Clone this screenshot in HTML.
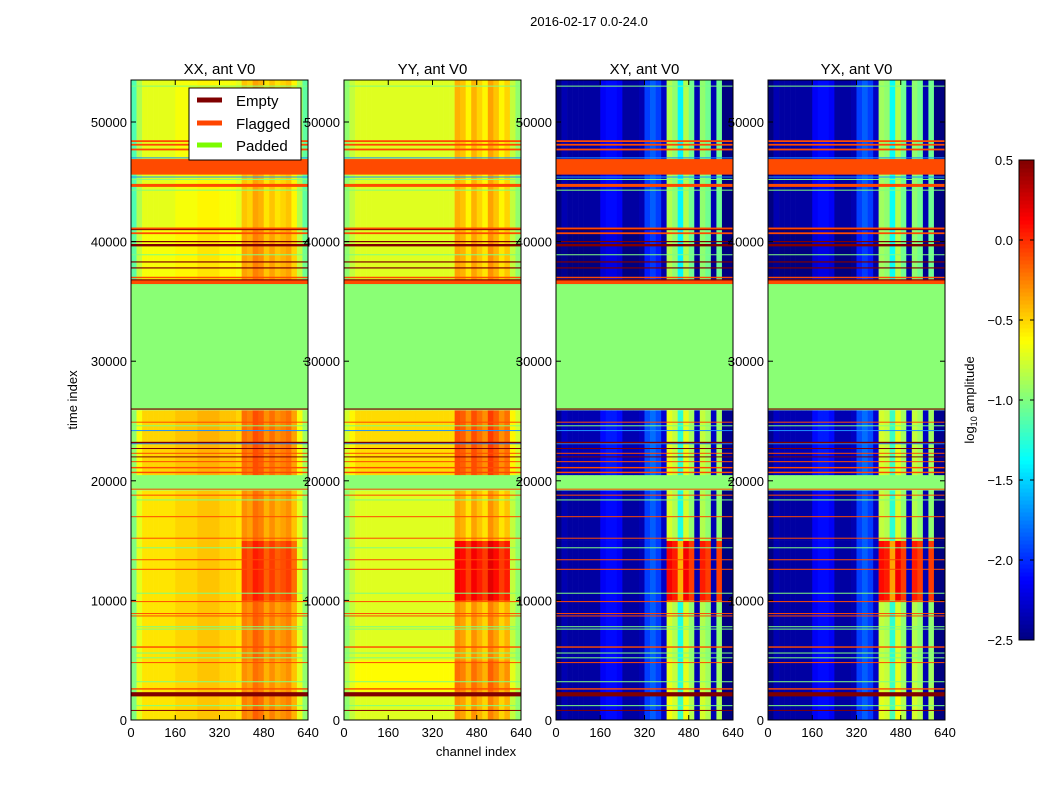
<!DOCTYPE html>
<html><head><meta charset="utf-8">
<style>
body{margin:0;background:#fff;}
svg text{font-family:"Liberation Sans","DejaVu Sans",sans-serif;}
</style></head>
<body>
<svg id="fig" width="1050" height="800" viewBox="0 0 1050 800" xmlns="http://www.w3.org/2000/svg">
<rect width="1050" height="800" fill="#fff"/>
<text x="589" y="26" font-size="13" text-anchor="middle">2016-02-17 0.0-24.0</text>
<g id="panels"></g>
<text x="476" y="756" font-size="13" text-anchor="middle">channel index</text>
<text transform="translate(77,400) rotate(-90)" font-size="13" text-anchor="middle">time index</text>
<g id="legend">
<rect x="189" y="88" width="112" height="72" fill="#fff" stroke="#000" stroke-width="1"/>
<g><line x1="197" y1="100" x2="222" y2="100" stroke="#800000" stroke-width="5"/><text x="236" y="106" font-size="15">Empty</text></g>
<g><line x1="197" y1="123" x2="222" y2="123" stroke="#ff4500" stroke-width="5"/><text x="236" y="129" font-size="15">Flagged</text></g>
<g><line x1="197" y1="145" x2="222" y2="145" stroke="#7cfc00" stroke-width="5"/><text x="236" y="151" font-size="15">Padded</text></g>
</g>
<g id="cbar"></g>
<text transform="translate(974,400) rotate(-90)" font-size="13" text-anchor="middle">log<tspan font-size="9" dy="3">10</tspan><tspan dy="-3"> amplitude</tspan></text>
</svg>
<script>
const panelTitles=["XX, ant V0","YY, ant V0","XY, ant V0","YX, ant V0"];
const xTicks=[0,160,320,480,640];
const yTicks=[0,10000,20000,30000,40000,50000];
const cbarTicks=[0.5,0.0,-0.5,-1.0,-1.5,-2.0,-2.5];
const cbarTickLabels=["0.5","0.0","\u22120.5","\u22121.0","\u22121.5","\u22122.0","\u22122.5"];
const binWidth=20;
const profXX=[-1.0,-0.7,-0.55,-0.55,-0.55,-0.55,-0.55,-0.55,-0.5,-0.5,-0.5,-0.5,-0.45,-0.45,-0.45,-0.45,-0.5,-0.5,-0.5,-0.55,-0.3,-0.35,-0.2,-0.25,-0.4,-0.3,-0.4,-0.35,-0.3,-0.45,-0.7,-0.95];
const profYY=[-0.95,-0.8,-0.72,-0.72,-0.72,-0.72,-0.72,-0.72,-0.72,-0.72,-0.72,-0.72,-0.72,-0.72,-0.72,-0.72,-0.72,-0.72,-0.72,-0.72,-0.4,-0.45,-0.6,-0.4,-0.5,-0.6,-0.35,-0.45,-0.6,-0.5,-0.8,-0.95];
const profXY=[-2.5,-2.35,-2.4,-2.4,-2.4,-2.4,-2.4,-2.4,-2.15,-2.1,-2.1,-2.15,-2.4,-2.4,-2.4,-2.35,-1.95,-1.85,-1.95,-2.3,-0.85,-0.95,-1.4,-0.85,-1.05,-2.35,-0.95,-1.05,-2.35,-1.05,-2.5,-2.5];
const profYX=[-2.5,-2.35,-2.4,-2.4,-2.4,-2.4,-2.4,-2.4,-2.15,-2.1,-2.1,-2.15,-2.4,-2.4,-2.4,-2.35,-1.95,-1.85,-1.95,-2.3,-0.9,-0.95,-1.35,-0.85,-1.05,-2.3,-0.95,-1.05,-2.35,-1.05,-2.5,-2.5];
const segStart=[0,2400,5000,10000,15000,19200,20500,25900,36500,41000];
const segEnd=[2400,5000,10000,15000,19200,20500,25900,36500,41000,53500];
const segPadded=[0,0,0,0,0,1,0,1,0,0];
const offXX=[0,0,0,0,0,0,0.05,0,-0.1,-0.15];
const offYY=[0,0.1,0,0,0,0,0.2,0,0,0];
const offXY=[0,0,0,0,0,0,0.05,0,-0.1,0];
const offYX=[0,0,0,0,0,0,0.05,0,-0.1,0];
const hotXX=[0.05,0,0.05,0.25,0,0,0.05,0,0.05,0];
const hotYY=[0.1,0.1,0.1,0.55,0.05,0,0.1,0,0.05,0];
const hotXY=[0.2,0.15,0.1,1.0,0.1,0,0.1,0,0.1,0];
const hotYX=[0.2,0.15,0.1,1.0,0.1,0,0.1,0,0.1,0];
const flaggedT=[2600,4800,6100,8700,8900,9900,12600,13400,15200,17000,18800,19300,20700,21100,21600,22300,24900,36600,37000,40700,41100,44700,46250,47700,48100,48400];
const flaggedW=[120,80,120,80,80,80,80,80,80,80,80,80,120,120,80,80,80,300,120,150,150,250,1300,150,150,150];
const emptyT=[800,2150,22000,22700,23200,26000,36800,37800,38300,39700,40000,41000];
const emptyW=[80,350,80,80,120,100,100,100,100,200,100,80];
const padT=[1200,3200,5200,5600,7600,7800,10600,14400,18400,24600,36400,38900,44300,45200,53000];
const cyanT=[23100,24200,45400,47000];

const profiles=[profXX,profYY,profXY,profYX];
const offsets=[offXX,offYY,offXY,offYX];
const hots=[hotXX,hotYY,hotXY,hotYX];
const panelX=[131,344,556,768], PW=177, PT=80, PB=720, TMAX=53512, CMAX=640, VMIN=-2.5, VMAX=0.5;
const NS="http://www.w3.org/2000/svg";
function xs(p,c){return panelX[p]+c/CMAX*PW;}
function ys(t){return PB-t/TMAX*(PB-PT);}
function jet(v){let t=(v-VMIN)/(VMAX-VMIN);t=Math.max(0,Math.min(1,t));
 const cl=x=>Math.round(255*Math.max(0,Math.min(1,x)));
 return `rgb(${cl(1.5-Math.abs(4*t-3))},${cl(1.5-Math.abs(4*t-2))},${cl(1.5-Math.abs(4*t-1))})`;}
function mk(tag,attrs,parent){const e=document.createElementNS(NS,tag);for(const k in attrs)e.setAttribute(k,attrs[k]);parent.appendChild(e);return e;}
const root=document.getElementById('panels');
for(let p=0;p<4;p++){
 const g=mk('g',{},root);
 
 
 const hm=mk('g',{},g);
 
 
 const prof=profiles[p];
 for(let s=0;s<segStart.length;s++){
  const y0=ys(segEnd[s]),y1=ys(segStart[s]);
  if(segPadded[s]){const r=mk('rect',{x:xs(p,0),y:y0,width:PW,height:y1-y0,fill:jet(-0.97)},hm);
   
   continue;}
  for(let b=0;b<prof.length;b++){
   const c0=b*binWidth,c1=c0+binWidth;
   let v=prof[b]+offsets[p][s];
   if(c0>=400&&c0<600&&prof[b]>-1.9)v+=hots[p][s];
   const r=mk('rect',{x:xs(p,c0),y:y0,width:xs(p,c1)-xs(p,c0)+0.3,height:y1-y0+0.3,fill:jet(v)},hm);
   
   
  }
 }
 function band(t,w,col,name){const h=Math.max(1,w/TMAX*(PB-PT));const r=mk('rect',{x:xs(p,0),y:ys(t)-h/2,width:PW,height:h,fill:col},g);
  
  }
 padT.forEach(t=>band(t,60,'#7fff7f','padded-line'));
 cyanT.forEach(t=>band(t,60,'#1e90ff','cyan-line'));
 flaggedT.forEach((t,i)=>band(t,flaggedW[i],'#ff4a00','flagged-band'));
 emptyT.forEach((t,i)=>band(t,emptyW[i],'#800000','empty-band'));
 const fr=mk('rect',{x:panelX[p],y:PT,width:PW,height:PB-PT,fill:'none',stroke:'#000','stroke-width':1},g);
 
 
 const tt=mk('text',{x:panelX[p]+PW/2,y:74,'font-size':15,'text-anchor':'middle'},g);tt.textContent=panelTitles[p];
 
 
 xTicks.forEach(c=>{const x=xs(p,c);mk('line',{x1:x,y1:PB,x2:x,y2:PB-5,stroke:'#000'},g);mk('line',{x1:x,y1:PT,x2:x,y2:PT+5,stroke:'#000'},g);
  const l=mk('text',{x:x,y:737,'font-size':13,'text-anchor':'middle'},g);l.textContent=c;
  
  });
 yTicks.forEach(t=>{const y=ys(t);mk('line',{x1:panelX[p],y1:y,x2:panelX[p]+5,y2:y,stroke:'#000'},g);mk('line',{x1:panelX[p]+PW,y1:y,x2:panelX[p]+PW-5,y2:y,stroke:'#000'},g);
  const l=mk('text',{x:panelX[p]-4,y:y+5,'font-size':13,'text-anchor':'end'},g);l.textContent=t;
  
  });
}
const cb=document.getElementById('cbar');
const CX=1019,CW=15,CT=160,CB=640;
for(let i=0;i<120;i++){const v0=VMIN+(VMAX-VMIN)*i/120,v1=VMIN+(VMAX-VMIN)*(i+1)/120;
 const yA=CB-(v1-VMIN)/(VMAX-VMIN)*(CB-CT),yB=CB-(v0-VMIN)/(VMAX-VMIN)*(CB-CT);
 const r=mk('rect',{x:CX,y:yA,width:CW,height:yB-yA+0.5,fill:jet((v0+v1)/2)},cb);
 
 }
mk('rect',{x:CX,y:CT,width:CW,height:CB-CT,fill:'none',stroke:'#000'},cb);
cbarTicks.forEach((v,i)=>{const y=CB-(v-VMIN)/(VMAX-VMIN)*(CB-CT);
 mk('line',{x1:CX,y1:y,x2:CX+4,y2:y,stroke:'#000'},cb);mk('line',{x1:CX+CW,y1:y,x2:CX+CW-4,y2:y,stroke:'#000'},cb);
 const l=mk('text',{x:CX-6,y:y+5,'font-size':13,'text-anchor':'end'},cb);l.textContent=cbarTickLabels[i];
 
 });
</script>
</body></html>
